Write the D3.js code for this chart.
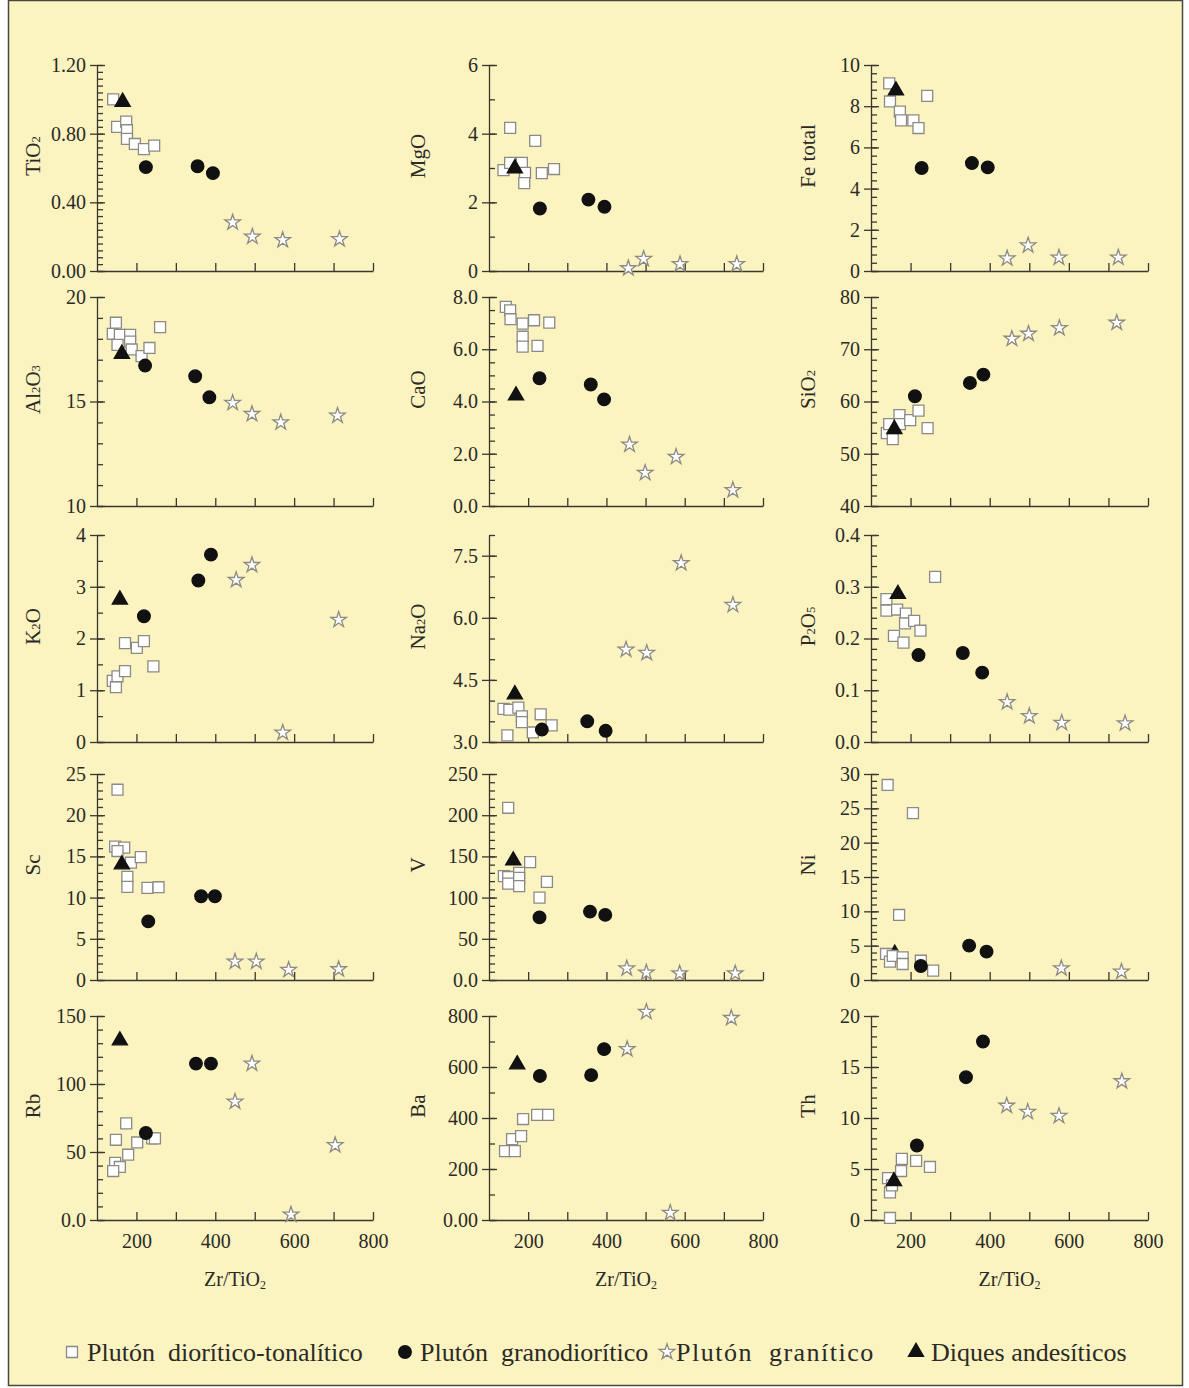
<!DOCTYPE html>
<html>
<head>
<meta charset="utf-8">
<script src="https://cdn.jsdelivr.net/npm/d3@7"></script>
<style>
  body { margin: 0; background: #fff; }
  text { font-family: 'Liberation Serif', 'Times New Roman', serif; fill: #2b2a26; }
</style>
</head>
<body>
<div id="chart"></div>
<script>
const W = 1189, H = 1388;

// legend groups: 0 square, 1 circle, 2 star, 3 triangle
const groups = ['Plutón  diorítico-tonalítico', 'Plutón  granodiorítico', 'Plutón  granítico', 'Diques andesíticos'];

// axis text ("_" marks a subscript digit)
const yLabels = ['TiO_2', 'MgO', 'Fe total', 'Al_2O_3', 'CaO', 'SiO_2', 'K_2O', 'Na_2O', 'P_2O_5', 'Sc', 'V', 'Ni', 'Rb', 'Ba', 'Th'];
const xLabel = 'Zr/TiO_2';
const xDomain = [100, 800];
const xTickLabels = [200, 400, 600, 800];

const yDomains = [[0, 1.2], [0, 6], [0, 10], [10, 20], [0, 8], [40, 80], [0, 4], [3, 8], [0, 0.4],
                  [0, 25], [0, 250], [0, 30], [0, 150], [0, 800], [0, 20]];
const yMajor = [[0, 0.4, 0.8, 1.2], [0, 2, 4, 6], [0, 2, 4, 6, 8, 10], [10, 15, 20], [0, 2, 4, 6, 8],
                [40, 50, 60, 70, 80], [0, 1, 2, 3, 4], [3, 4.5, 6, 7.5], [0, 0.1, 0.2, 0.3, 0.4],
                [0, 5, 10, 15, 20, 25], [0, 50, 100, 150, 200, 250], [0, 5, 10, 15, 20, 25, 30],
                [0, 50, 100, 150], [0, 200, 400, 600, 800], [0, 5, 10, 15, 20]];
const yTickLabels = [['0.00', '0.40', '0.80', '1.20'], ['0', '2', '4', '6'], ['0', '2', '4', '6', '8', '10'],
                     ['10', '15', '20'], ['0.0', '2.0', '4.0', '6.0', '8.0'], ['40', '50', '60', '70', '80'],
                     ['0', '1', '2', '3', '4'], ['3.0', '4.5', '6.0', '7.5'], ['0.0', '0.1', '0.2', '0.3', '0.4'],
                     ['0', '5', '10', '15', '20', '25'], ['0.0', '50', '100', '150', '200', '250'],
                     ['0', '5', '10', '15', '20', '25', '30'], ['0.0', '50', '100', '150'],
                     ['0.00', '200', '400', '600', '800'], ['0', '5', '10', '15', '20']];
const yMinorStep = [0.04, 1, 0.4, 1, 0.5, 2, 0.5, 0.5, 0.02, 1, 10, 1, 10, 100, 1];

// points: [group, Zr/TiO2, value]  (drawn in this order)
const ptsTiO2 = [[0,141,1.00],[0,151,0.84],[0,174,0.87],[0,176,0.82],[0,176,0.77],[0,196,0.74],[0,219,0.71],[0,245,0.73],
  [1,224,0.605],[1,355,0.61],[1,394,0.57],[2,444,0.283],[2,494,0.20],[2,571,0.18],[2,715,0.185],[3,165,0.985]];
const ptsMgO = [[0,154,4.17],[0,218,3.79],[0,137,2.94],[0,154,3.15],[0,184,3.15],[0,192,2.86],[0,190,2.56],[0,235,2.85],[0,266,2.97],
  [1,230,1.82],[1,354,2.08],[1,395,1.87],[2,456,0.08],[2,495,0.35],[2,588,0.20],[2,733,0.20],[3,166,2.99]];
const ptsFe = [[0,146,9.11],[0,148,8.23],[0,173,7.74],[0,176,7.31],[0,207,7.31],[0,220,6.94],[0,242,8.50],
  [1,228,5.00],[1,355,5.24],[1,395,5.03],[2,444,0.61],[2,497,1.24],[2,575,0.65],[2,725,0.65],[3,163,8.76]];
const ptsAl = [[0,140,18.24],[0,148,18.77],[0,158,18.19],[0,152,17.71],[0,184,18.19],[0,184,17.87],[0,188,17.49],[0,213,17.17],[0,233,17.56],[0,260,18.56],
  [1,222,16.72],[1,349,16.21],[1,385,15.20],[2,444,14.93],[2,493,14.40],[2,566,14.00],[2,710,14.32],[3,163,17.28]];
const ptsCaO = [[0,143,7.62],[0,154,7.49],[0,155,7.15],[0,186,6.98],[0,215,7.11],[0,254,7.02],[0,186,6.48],[0,186,6.10],[0,224,6.13],
  [1,229,4.89],[1,360,4.65],[1,394,4.08],[2,459,2.35],[2,499,1.27],[2,578,1.88],[2,723,0.61],[3,169,4.23]];
const ptsSi = [[0,140,53.95],[0,146,55.68],[0,155,52.80],[0,172,57.41],[0,173,55.68],[0,199,56.45],[0,220,58.24],[0,243,54.91],
  [1,211,61.0],[1,350,63.55],[1,384,65.15],[2,456,72.0],[2,498,72.96],[2,576,74.05],[2,721,75.07],[3,159,54.72]];
const ptsK = [[0,140,1.18],[0,148,1.06],[0,152,1.27],[0,171,1.37],[0,171,1.91],[0,201,1.82],[0,219,1.95],[0,243,1.46],
  [1,219,2.43],[1,357,3.12],[1,389,3.62],[2,453,3.13],[2,493,3.42],[2,571,0.18],[2,713,2.36],[3,158,2.75]];
const ptsNa = [[0,137,3.80],[0,152,3.78],[0,175,3.83],[0,184,3.62],[0,184,3.48],[0,147,3.16],[0,212,3.23],[0,232,3.67],[0,260,3.40],
  [1,235,3.30],[1,351,3.50],[1,398,3.27],[2,450,5.23],[2,503,5.15],[2,591,7.32],[2,723,6.31],[3,166,4.15]];
const ptsP = [[0,139,0.276],[0,139,0.254],[0,166,0.256],[0,188,0.248],[0,186,0.229],[0,209,0.234],[0,225,0.215],[0,158,0.205],[0,182,0.192],[0,262,0.319],
  [1,220,0.168],[1,332,0.172],[1,381,0.134],[2,444,0.077],[2,500,0.050],[2,582,0.037],[2,742,0.036],[3,168,0.286]];
const ptsSc = [[0,152,23.09],[0,146,16.18],[0,169,16.06],[0,152,15.65],[0,186,14.23],[0,211,14.92],[0,177,12.52],[0,177,11.30],[0,228,11.18],[0,256,11.26],
  [1,230,7.11],[1,364,10.16],[1,399,10.16],[2,450,2.23],[2,504,2.23],[2,586,1.22],[2,713,1.30],[3,163,14.02]];
const ptsV = [[0,149,209],[0,138,126],[0,149,125],[0,149,117],[0,177,130],[0,177,124],[0,177,114],[0,205,143],[0,248,119],[0,229,100],
  [1,229,76],[1,358,83],[1,397,79],[2,452,14],[2,502,9],[2,587,8],[2,729,8],[3,162,145]];
const ptsNi = [[3,160,3.8],[0,142,28.4],[0,206,24.3],[0,171,9.47],[0,138,3.79],[0,148,2.67],[0,155,3.50],[0,180,3.30],[0,180,2.33],[0,226,2.81],[0,257,1.36],
  [1,226,2.04],[1,348,5.0],[1,392,4.13],[2,581,1.70],[2,733,1.21]];
const ptsRb = [[0,148,59],[0,174,71],[0,179,48],[0,146,42],[0,158,39],[0,141,36],[0,202,57],[0,240,60],[0,247,60],
  [1,224,64],[1,351,115],[1,389,115],[2,450,87],[2,493,115],[2,592,4],[2,704,55],[3,158,132]];
const ptsBa = [[0,141,270],[0,166,270],[0,159,317],[0,182,329],[0,187,396],[0,223,412],[0,251,412],
  [1,230,565],[1,361,568],[1,394,670],[2,453,670],[2,502,816],[2,563,28],[2,719,792],[3,172,610]];
const ptsTh = [[0,143,4.1],[0,148,2.7],[0,148,0.2],[0,178,6.0],[0,214,5.8],[0,249,5.2],[0,176,4.8],[0,153,3.4],
  [1,216,7.3],[1,340,14.0],[1,383,17.5],[2,443,11.2],[2,496,10.6],[2,575,10.2],[2,734,13.6],[3,158,3.8]];

const panelPoints = [ptsTiO2, ptsMgO, ptsFe, ptsAl, ptsCaO, ptsSi, ptsK, ptsNa, ptsP,
                     ptsSc, ptsV, ptsNi, ptsRb, ptsBa, ptsTh];

// layout
const colX = [97, 489, 871];
const colW = [276, 274, 277];
const rowTop = [65, 297, 535, 774, 1016];
const rowBot = [271, 506, 742, 980, 1220];
const bg = '#fbf3c0';
const axisColor = '#3a372e';
const serif = "'Liberation Serif', 'Times New Roman', serif";

const svg = d3.select('#chart').append('svg')
  .attr('width', W).attr('height', H);

svg.append('rect')
  .attr('x', 8.5).attr('y', 0.5).attr('width', 1174).attr('height', 1385)
  .attr('fill', bg).attr('stroke', '#4a4740').attr('stroke-width', 1.5);

// text with "_" subscripts
function richText(sel, str, size) {
  str.split(/(_\d)/).filter(s => s.length).forEach(part => {
    if (part[0] === '_') {
      sel.append('tspan').text(part[1]).attr('font-size', size * 0.6).attr('baseline-shift', '-25%');
    } else {
      sel.append('tspan').text(part);
    }
  });
}

const symbols = [
  d3.symbol(d3.symbolSquare, 120),
  d3.symbol(d3.symbolCircle, 125),
  d3.symbol(d3.symbolStar, 75),
  d3.symbol(d3.symbolTriangle, 100)
];
const fills = ['#fff', '#111', '#fff', '#111'];
const strokes = ['#8c8a84', '#111', '#8c8a84', '#111'];

panelPoints.forEach((pts, i) => {
  const col = i % 3, row = Math.floor(i / 3);
  const x0 = colX[col], y0 = rowTop[row], w = colW[col], h = rowBot[row] - rowTop[row];
  const g = svg.append('g').attr('transform', `translate(${x0},${y0})`);

  const x = d3.scaleLinear().domain(xDomain).range([0, w]);
  const y = d3.scaleLinear().domain(yDomains[i]).range([h, 0]);

  // x axis, ticks pointing inward
  const xAxis = d3.axisBottom(x)
    .tickValues(d3.range(200, 801, 100))
    .tickSizeInner(-8).tickSizeOuter(0)
    .tickFormat(d => (row === 4 && xTickLabels.includes(d)) ? d : '');
  const gx = g.append('g').attr('transform', `translate(0,${h})`).call(xAxis);
  gx.selectAll('text').attr('y', 14);

  // y axis: labelled majors outward, all ticks inward
  const [lo, hi] = yDomains[i];
  const minors = d3.range(lo, hi + 1e-9, yMinorStep[i]);
  const yAxis = d3.axisLeft(y)
    .tickValues(yMajor[i])
    .tickSizeInner(7).tickSizeOuter(0).tickPadding(4)
    .tickFormat((d, k) => yTickLabels[i][k]);
  g.append('g').call(yAxis);
  g.append('g').call(d3.axisRight(y).tickValues(minors).tickSizeInner(6).tickSizeOuter(0).tickFormat(''))
    .select('.domain').remove();
  g.append('g').call(d3.axisRight(y).tickValues(yMajor[i]).tickSizeInner(8).tickSizeOuter(0).tickFormat(''))
    .select('.domain').remove();

  g.selectAll('g').attr('font-family', serif).attr('font-size', 20);
  g.selectAll('.domain, .tick line').attr('stroke', axisColor).attr('stroke-width', 1.3);
  g.selectAll('.tick text').attr('fill', '#2b2a26').attr('font-size', 20);

  // y label
  const lx = col === 0 ? -64 : (col === 1 ? -71 : -63);
  const ly = g.append('text')
    .attr('transform', `translate(${lx},${h / 2 - 12}) rotate(-90)`)
    .attr('text-anchor', 'middle').attr('dominant-baseline', 'central')
    .attr('font-size', 21);
  richText(ly, yLabels[i], 21);

  // x label on bottom row
  if (row === 4) {
    const lt = g.append('text')
      .attr('x', w / 2).attr('y', h + 66)
      .attr('text-anchor', 'middle').attr('font-size', 20);
    richText(lt, xLabel, 20);
  }

  // points
  g.selectAll('path.pt')
    .data(pts)
    .enter().append('path')
      .attr('class', 'pt')
      .attr('transform', d => `translate(${x(d[1])},${y(d[2])})`)
      .attr('d', d => symbols[d[0]]())
      .attr('fill', d => fills[d[0]])
      .attr('stroke', d => strokes[d[0]])
      .attr('stroke-width', 1.3);
});

// legend
const legendX = [72, 405, 667, 916];
const legendGap = [15, 15, 9, 15];
const legendLetterSpace = [0, 0, 1.5, 0];
const legend = svg.append('g').attr('transform', 'translate(0,1352)');
groups.forEach((name, k) => {
  legend.append('path')
    .attr('transform', `translate(${legendX[k]},0)`)
    .attr('d', symbols[k]())
    .attr('fill', fills[k]).attr('stroke', strokes[k]).attr('stroke-width', 1.3);
  legend.append('text')
    .attr('x', legendX[k] + legendGap[k]).attr('y', 0)
    .attr('dominant-baseline', 'central')
    .attr('font-size', 26)
    .attr('letter-spacing', legendLetterSpace[k])
    .attr('xml:space', 'preserve')
    .style('white-space', 'pre')
    .text(name);
});
</script>
</body>
</html>
